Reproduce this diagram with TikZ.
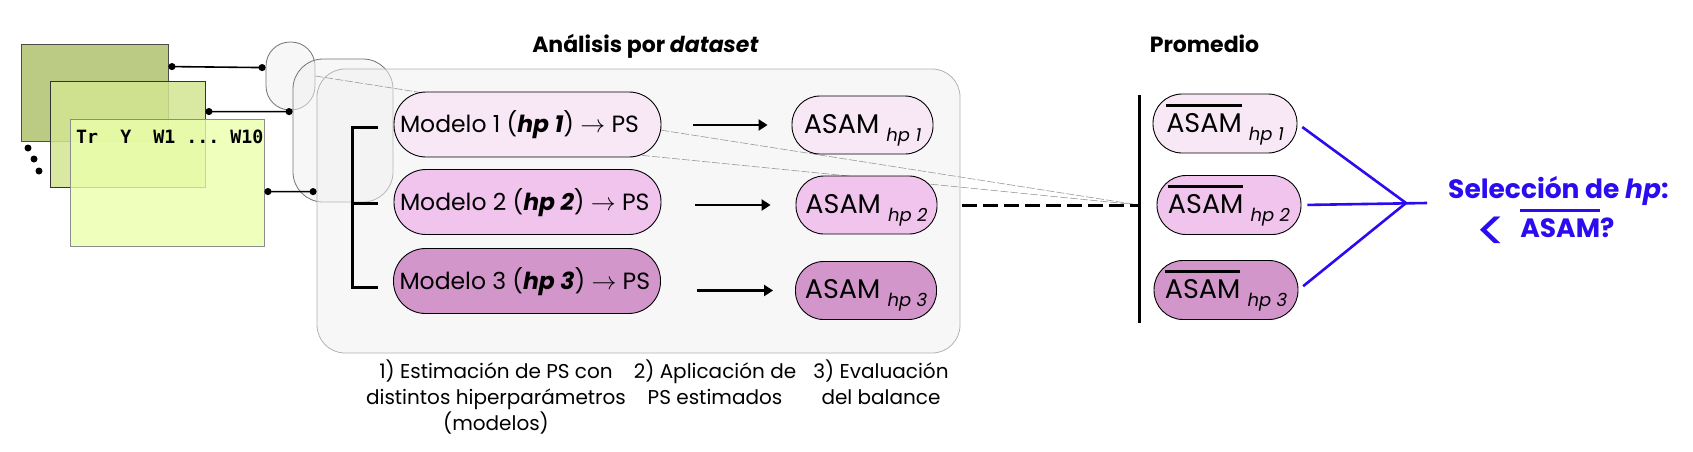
\documentclass[tikz,border=0pt]{standalone}
\usepackage{fontspec}
\setmainfont{Poppins}
\newfontfamily\tablefont{DejaVu Sans Mono}
\usetikzlibrary{arrows.meta}

\definecolor{olive1}{HTML}{BCCB84}
\definecolor{olive2}{HTML}{D3E590}
\definecolor{olive3}{HTML}{EBFFAB}
\definecolor{pink1}{HTML}{F8E8F6}
\definecolor{pink2}{HTML}{F1C4EE}
\definecolor{pink3}{HTML}{D396CB}
\definecolor{blue1}{HTML}{2B0BF0}

\newcommand{\hpsub}[1]{\raisebox{-8pt}{\fontsize{18}{18}\selectfont\itshape #1}}
\newcommand{\avgbar}[1]{\vbox{\hrule height 3pt\kern 6pt\hbox{#1}}}

\begin{document}
\begin{tikzpicture}
        [x=1pt, y=-1pt,
        datatab/.style={rectangle, draw=black!70, line width=0.9pt, inner sep=0pt},
        panel/.style={rectangle, draw=black!55, fill=black!6, fill opacity=0.55, line width=0.8pt, inner sep=0pt},
        model/.style={rectangle, rounded corners=32pt, draw=black, line width=0.9pt, minimum width=267pt, minimum height=65pt, inner sep=0pt, text height=16.5pt, text depth=0pt, font=\fontsize{23.5}{27}\selectfont},
        asam/.style={rectangle, rounded corners=28pt, draw=black, line width=0.9pt, minimum width=141pt, minimum height=58pt, inner sep=0pt, text height=19pt, text depth=3pt, font=\fontsize{27}{30}\selectfont},
        avg/.style={asam, minimum width=144pt, minimum height=59pt, rounded corners=29pt, text height=28pt, text depth=11pt},
        link/.style={{Circle[length=7pt]}-{Circle[length=7pt]}, line width=1.6pt},
        push/.style={-{Triangle[length=9pt,width=11pt]}, line width=2.8pt},
        zoomline/.style={black!40, line width=0.6pt, dash pattern=on 8pt off 2pt},
        avgdash/.style={line width=3pt, dash pattern=on 15pt off 6pt},
        selline/.style={blue1, line width=2.6pt, shorten <=6pt},
        title/.style={inner sep=0pt, font=\fontsize{22}{25}\selectfont\bfseries},
        stagetext/.style={align=center, inner sep=0pt, font=\fontsize{20}{26}\selectfont},
        seltext/.style={inner sep=0pt, text=blue1, font=\fontsize{26.5}{30}\selectfont\bfseries}]

        \useasboundingbox (0,0) rectangle (1693,451);

        % data tables
        \node[datatab, fill=olive1, minimum width=147pt, minimum height=97pt] (t1) at (94.5,92.5) {};
        \node[datatab, fill=olive2, fill opacity=0.85, draw=black!80, minimum width=155pt, minimum height=106pt] (t2) at (127.5,134) {};
        \node[datatab, fill=olive3, fill opacity=0.8, draw=black!45, minimum width=194pt, minimum height=127pt] (t3) at (167,182.5) {};
        \node[anchor=west, inner sep=0pt, font=\tablefont\bfseries\fontsize{18.3}{20}\selectfont] (cols) at (76,137) {Tr~~Y~~W1~...~W10};
        \fill (28,148) circle (3.5pt);
        \fill (34,159) circle (3.5pt);
        \fill (39,171) circle (3.5pt);

        % panels
        \node[panel, rounded corners=24pt, minimum width=49pt, minimum height=68pt] (p1) at (290.5,76) {};
        \node[panel, rounded corners=30pt, minimum width=100pt, minimum height=143pt] (p2) at (343,130.5) {};
        \node[panel, rounded corners=28pt, draw=black!30, minimum width=643pt, minimum height=284pt] (p3) at (638.5,211) {};

        % links from tables to panels
        \draw[link] ([yshift=-23pt]t1.north east) -- ([yshift=-26pt]p1.north west);
        \draw[link] ([yshift=-31pt]t2.north east) -- ([yshift=-53pt]p2.north west);
        \draw[link] ([yshift=-73pt]t3.north east) -- ([yshift=-123pt]p3.north west);

        % bar and zoom lines
        \coordinate (bartop) at (1139,95);
        \coordinate (barbot) at (1139,323);
        \coordinate (barmid) at (1139,205);
        \draw[zoomline] (p1.east) -- (barmid);
        \draw[zoomline] (p2.east) -- (barmid);

        % bracket
        \draw[line width=3pt] (378,127) -- (352,127) -- (352,287) -- (378,287);
        \draw[line width=3pt] (352,203) -- (378,203);

        % titles
        \node[title, anchor=base] (tdata) at (645.5,52.5) {Análisis por \textit{dataset}};
        \node[title, anchor=base] (tavg) at (1204.5,52) {Promedio};

        % models
        \node[model, fill=pink1] (m1) at (527.5,124.5) {\makebox[255pt][l]{Modelo 1 (\textbf{\textit{hp 1}}) $\rightarrow$ PS}};
        \node[model, fill=pink2] (m2) at (527.5,202) {\makebox[255pt][l]{Modelo 2 (\textbf{\textit{hp 2}}) $\rightarrow$ PS}};
        \node[model, fill=pink3] (m3) at (527,281) {\makebox[255pt][l]{Modelo 3 (\textbf{\textit{hp 3}}) $\rightarrow$ PS}};

        % balance per model
        \node[asam, fill=pink1] (a1) at (862.5,125) {ASAM \hpsub{hp 1}};
        \node[asam, fill=pink2] (a2) at (866.5,205) {ASAM \hpsub{hp 2}};
        \node[asam, fill=pink3] (a3) at (866,290.5) {ASAM \hpsub{hp 3}};

        \draw[push, shorten <=32pt, shorten >=24pt] (m1.east |- a1.west) -- (a1.west);
        \draw[push, shorten <=34pt, shorten >=25pt] (m2.east |- a2.west) -- (a2.west);
        \draw[push, shorten <=36pt, shorten >=22pt] (m3.east |- a3.west) -- (a3.west);

        % average
        \draw[avgdash, shorten <=25pt] (a2.east) -- (a2.east -| barmid);
        \draw[line width=3pt] (bartop) -- (barbot);

        \node[avg, fill=pink1] (s1) at (1225,123.5) {\avgbar{ASAM} \hpsub{hp 1}};
        \node[avg, fill=pink2] (s2) at (1229,205) {\avgbar{ASAM} \hpsub{hp 2}};
        \node[avg, fill=pink3] (s3) at (1226,290) {\avgbar{ASAM} \hpsub{hp 3}};

        % selection
        \coordinate (join) at (1406,203);
        \coordinate (selend) at (1427,203);
        \draw[selline] (s1.east) -- (join);
        \draw[selline] (s2.east) -- (selend);
        \draw[selline] (s3.east) -- (join);

        \node[seltext, anchor=base west] (sel) at (1448,198) {Selección de \textit{hp}:};
        \node[seltext, anchor=base west] (selq) at (1475,237) {\raisebox{-14pt}{\fontsize{58}{58}\selectfont\mdseries<}\hspace{13pt}\avgbar{ASAM}?};

        % stages
        \node[stagetext, anchor=north] (st1) at (496,360) {1) Estimación de PS con\\distintos hiperparámetros\\(modelos)};
        \node[stagetext, anchor=north] (st2) at (715,360) {2) Aplicación de\\PS estimados};
        \node[stagetext, anchor=north] (st3) at (881,360) {3) Evaluación\\del balance};

    \end{tikzpicture}
\end{document}
